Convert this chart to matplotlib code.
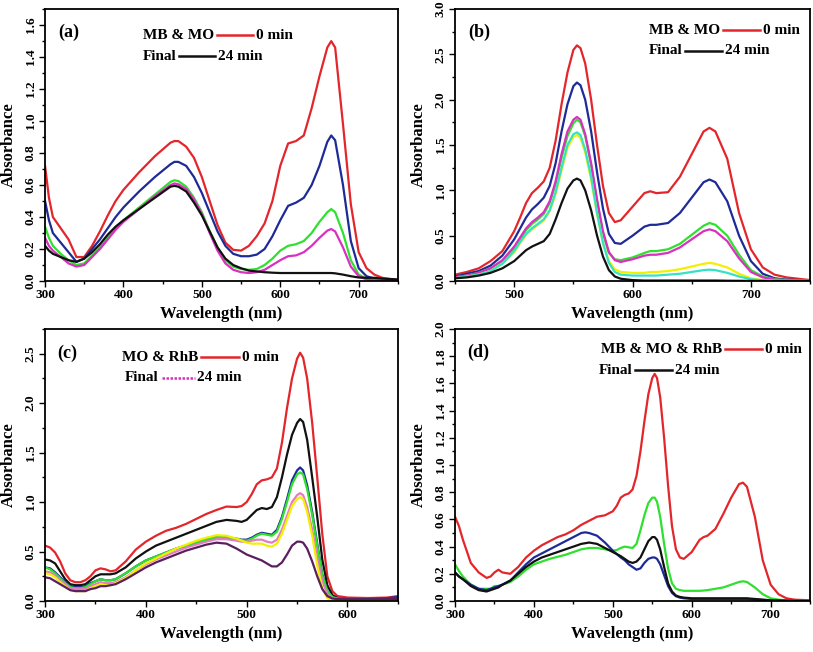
import numpy as np
import matplotlib
matplotlib.use('Agg')
import matplotlib.pyplot as plt
from matplotlib.ticker import MultipleLocator, AutoMinorLocator

plt.rcParams['font.family'] = 'serif'
plt.rcParams['font.serif'] = ['Liberation Serif', 'DejaVu Serif']
plt.rcParams['font.weight'] = 'bold'
plt.rcParams['axes.labelweight'] = 'bold'

# ---- (a) MB & MO ----
wl_a = [300, 305, 310, 320, 330, 340, 350, 360, 370, 380, 390, 400, 420, 440, 460, 465, 470, 480, 490, 500,
        510, 520, 530, 540, 550, 560, 570, 580, 590, 600, 610, 620, 630, 640, 650, 660, 665, 670, 680, 690,
        700, 710, 720, 730, 750]
a_red = [0.72, 0.52, 0.40, 0.33, 0.26, 0.15, 0.15, 0.22, 0.31, 0.41, 0.50, 0.57, 0.68, 0.78, 0.865, 0.875, 0.875,
         0.84, 0.77, 0.65, 0.50, 0.35, 0.24, 0.195, 0.19, 0.22, 0.28, 0.36, 0.50, 0.72, 0.86, 0.875, 0.91, 1.08,
         1.28, 1.46, 1.50, 1.46, 0.98, 0.48, 0.18, 0.08, 0.04, 0.02, 0.005]
a_blue = [0.50, 0.38, 0.30, 0.24, 0.18, 0.12, 0.14, 0.20, 0.26, 0.33, 0.40, 0.46, 0.56, 0.65, 0.73, 0.745, 0.745,
          0.72, 0.65, 0.55, 0.43, 0.31, 0.22, 0.17, 0.155, 0.155, 0.165, 0.20, 0.28, 0.38, 0.47, 0.49, 0.52, 0.60,
          0.72, 0.87, 0.91, 0.88, 0.60, 0.25, 0.08, 0.03, 0.015, 0.008, 0.0]
a_green = [0.34, 0.27, 0.22, 0.17, 0.13, 0.10, 0.11, 0.16, 0.21, 0.27, 0.33, 0.38, 0.46, 0.54, 0.62, 0.63, 0.625,
           0.59, 0.52, 0.43, 0.31, 0.21, 0.13, 0.09, 0.075, 0.07, 0.075, 0.10, 0.14, 0.19, 0.22, 0.23, 0.25, 0.30,
           0.37, 0.43, 0.45, 0.43, 0.30, 0.13, 0.04, 0.015, 0.008, 0.004, 0.0]
a_mag = [0.27, 0.22, 0.19, 0.15, 0.11, 0.09, 0.10, 0.15, 0.20, 0.26, 0.32, 0.37, 0.45, 0.53, 0.60, 0.61, 0.605,
         0.575, 0.51, 0.42, 0.30, 0.19, 0.11, 0.07, 0.055, 0.05, 0.055, 0.07, 0.10, 0.13, 0.155, 0.16, 0.18, 0.22,
         0.27, 0.315, 0.325, 0.31, 0.21, 0.09, 0.03, 0.01, 0.005, 0.002, 0.0]
a_black = [0.22, 0.19, 0.17, 0.15, 0.13, 0.12, 0.14, 0.18, 0.23, 0.29, 0.34, 0.38, 0.45, 0.52, 0.59, 0.595, 0.59,
           0.56, 0.49, 0.41, 0.31, 0.21, 0.14, 0.10, 0.08, 0.065, 0.06, 0.055, 0.052, 0.05, 0.05, 0.05, 0.05, 0.05,
           0.05, 0.05, 0.05, 0.048, 0.04, 0.03, 0.022, 0.02, 0.02, 0.015, 0.01]

# ---- (b) MB & MO ----
wl_b = [450, 460, 470, 480, 490, 500, 505, 510, 515, 520, 525, 530, 535, 540, 545, 550, 553, 556, 560, 565, 570,
        575, 580, 585, 590, 600, 610, 615, 620, 630, 640, 650, 660, 665, 670, 680, 690, 700, 710, 720, 730, 750]
b_red = [0.07, 0.10, 0.14, 0.22, 0.33, 0.55, 0.70, 0.86, 0.97, 1.03, 1.10, 1.25, 1.55, 1.95, 2.30, 2.55, 2.60, 2.57,
         2.40, 2.00, 1.50, 1.05, 0.75, 0.65, 0.67, 0.82, 0.97, 0.99, 0.97, 0.98, 1.15, 1.40, 1.65, 1.69, 1.65, 1.35,
         0.75, 0.35, 0.15, 0.07, 0.04, 0.01]
b_blue = [0.05, 0.08, 0.11, 0.17, 0.28, 0.46, 0.58, 0.70, 0.79, 0.85, 0.92, 1.05, 1.30, 1.65, 1.95, 2.15, 2.19, 2.16,
          2.00, 1.65, 1.20, 0.80, 0.52, 0.42, 0.41, 0.50, 0.60, 0.62, 0.62, 0.64, 0.75, 0.92, 1.09, 1.12, 1.09, 0.88,
          0.50, 0.22, 0.08, 0.03, 0.015, 0.005]
b_green = [0.04, 0.06, 0.09, 0.14, 0.22, 0.36, 0.46, 0.56, 0.63, 0.68, 0.74, 0.86, 1.07, 1.36, 1.60, 1.74, 1.78, 1.75,
           1.60, 1.28, 0.88, 0.52, 0.31, 0.24, 0.23, 0.26, 0.31, 0.33, 0.33, 0.35, 0.41, 0.51, 0.61, 0.64, 0.62, 0.50,
           0.29, 0.12, 0.05, 0.02, 0.01, 0.005]
b_mag = [0.04, 0.06, 0.09, 0.14, 0.23, 0.38, 0.48, 0.58, 0.65, 0.70, 0.76, 0.88, 1.10, 1.40, 1.65, 1.78, 1.81, 1.78,
         1.62, 1.30, 0.90, 0.55, 0.32, 0.23, 0.21, 0.24, 0.28, 0.29, 0.29, 0.31, 0.37, 0.46, 0.55, 0.57, 0.55, 0.44,
         0.25, 0.10, 0.04, 0.015, 0.008, 0.003]
b_yellow = [0.03, 0.05, 0.07, 0.11, 0.19, 0.32, 0.42, 0.51, 0.57, 0.62, 0.67, 0.77, 0.96, 1.22, 1.47, 1.59, 1.61, 1.58,
            1.42, 1.12, 0.74, 0.42, 0.22, 0.13, 0.10, 0.09, 0.09, 0.10, 0.10, 0.11, 0.13, 0.16, 0.19, 0.20, 0.19, 0.15,
            0.08, 0.03, 0.01, 0.005, 0.002, 0.0]
b_cyan = [0.03, 0.05, 0.07, 0.11, 0.19, 0.33, 0.43, 0.52, 0.58, 0.63, 0.68, 0.78, 0.98, 1.25, 1.50, 1.62, 1.64, 1.61,
          1.45, 1.15, 0.75, 0.42, 0.20, 0.10, 0.07, 0.06, 0.06, 0.06, 0.06, 0.07, 0.08, 0.10, 0.12, 0.125, 0.12, 0.09,
          0.05, 0.02, 0.008, 0.003, 0.001, 0.0]
b_black = [0.03, 0.04, 0.06, 0.09, 0.14, 0.22, 0.28, 0.34, 0.38, 0.41, 0.44, 0.52, 0.68, 0.86, 1.02, 1.11, 1.13, 1.11,
           1.00, 0.78, 0.50, 0.27, 0.12, 0.05, 0.025, 0.01, 0.005, 0.005, 0.005, 0.005, 0.005, 0.005, 0.005, 0.005,
           0.005, 0.003, 0.002, 0.001, 0.0, 0.0, 0.0, 0.0]

# ---- (c) MO & RhB ----
wl_c = [300, 305, 310, 315, 320, 325, 330, 335, 340, 345, 350, 355, 360, 365, 370, 380, 390, 400, 410, 420, 430, 440,
        450, 460, 470, 480, 490, 495, 500, 505, 510, 515, 520, 525, 530, 535, 540, 545, 550, 553, 556, 560, 565, 570,
        575, 580, 585, 590, 600, 620, 640, 650]
c_red = [0.56, 0.54, 0.49, 0.40, 0.28, 0.21, 0.19, 0.19, 0.21, 0.25, 0.31, 0.33, 0.32, 0.30, 0.31, 0.40, 0.52, 0.60,
         0.66, 0.71, 0.74, 0.78, 0.83, 0.88, 0.92, 0.955, 0.95, 0.96, 1.00, 1.08, 1.18, 1.22, 1.23, 1.25, 1.34, 1.60,
         1.95, 2.25, 2.45, 2.51, 2.46, 2.25, 1.80, 1.25, 0.68, 0.25, 0.10, 0.05, 0.035, 0.03, 0.035, 0.05]
c_black = [0.42, 0.41, 0.38, 0.30, 0.22, 0.17, 0.16, 0.16, 0.17, 0.21, 0.25, 0.27, 0.27, 0.27, 0.28, 0.34, 0.43, 0.50,
           0.56, 0.60, 0.64, 0.68, 0.72, 0.76, 0.80, 0.82, 0.81, 0.80, 0.82, 0.87, 0.92, 0.94, 0.93, 0.95, 1.05, 1.25,
           1.48, 1.68, 1.80, 1.84, 1.81, 1.63, 1.25, 0.85, 0.42, 0.16, 0.06, 0.03, 0.02, 0.02, 0.02, 0.02]
c_blue = [0.34, 0.33, 0.29, 0.24, 0.19, 0.15, 0.14, 0.14, 0.15, 0.18, 0.20, 0.22, 0.21, 0.21, 0.22, 0.28, 0.35, 0.41,
          0.45, 0.49, 0.53, 0.56, 0.59, 0.62, 0.645, 0.645, 0.63, 0.62, 0.62, 0.64, 0.67, 0.69, 0.68, 0.67, 0.72, 0.85,
          1.03, 1.22, 1.32, 1.35, 1.32, 1.17, 0.90, 0.58, 0.27, 0.10, 0.04, 0.025, 0.02, 0.02, 0.03, 0.04]
c_green = [0.34, 0.32, 0.28, 0.23, 0.18, 0.14, 0.13, 0.13, 0.14, 0.17, 0.20, 0.22, 0.21, 0.21, 0.22, 0.28, 0.35, 0.41,
           0.45, 0.49, 0.53, 0.56, 0.59, 0.62, 0.645, 0.645, 0.63, 0.615, 0.61, 0.63, 0.66, 0.68, 0.67, 0.66, 0.70, 0.83,
           1.00, 1.18, 1.28, 1.30, 1.28, 1.13, 0.87, 0.56, 0.26, 0.10, 0.04, 0.025, 0.02, 0.02, 0.02, 0.02]
c_pink = [0.30, 0.29, 0.26, 0.21, 0.17, 0.13, 0.12, 0.12, 0.12, 0.15, 0.17, 0.19, 0.18, 0.18, 0.19, 0.24, 0.31, 0.37,
          0.42, 0.46, 0.50, 0.54, 0.57, 0.60, 0.625, 0.625, 0.61, 0.60, 0.60, 0.61, 0.62, 0.62, 0.60, 0.59, 0.62, 0.72,
          0.86, 1.00, 1.07, 1.09, 1.07, 0.95, 0.72, 0.44, 0.20, 0.07, 0.03, 0.02, 0.02, 0.02, 0.02, 0.02]
c_yellow = [0.28, 0.27, 0.24, 0.19, 0.15, 0.11, 0.10, 0.10, 0.10, 0.13, 0.15, 0.17, 0.16, 0.16, 0.18, 0.23, 0.31, 0.38,
            0.43, 0.48, 0.53, 0.57, 0.61, 0.64, 0.665, 0.66, 0.63, 0.61, 0.59, 0.58, 0.58, 0.58, 0.56, 0.55, 0.58, 0.68,
            0.82, 0.96, 1.03, 1.05, 1.03, 0.90, 0.66, 0.36, 0.13, 0.03, 0.005, 0.0, 0.0, 0.005, 0.01, 0.01]
c_purple = [0.24, 0.23, 0.20, 0.17, 0.14, 0.11, 0.10, 0.10, 0.10, 0.12, 0.13, 0.15, 0.15, 0.16, 0.17, 0.22, 0.28, 0.34,
            0.39, 0.43, 0.47, 0.51, 0.54, 0.57, 0.59, 0.58, 0.53, 0.50, 0.47, 0.45, 0.43, 0.41, 0.38, 0.35, 0.35, 0.39,
            0.47, 0.56, 0.60, 0.60, 0.59, 0.53, 0.40, 0.25, 0.12, 0.05, 0.025, 0.02, 0.02, 0.02, 0.02, 0.02]

# ---- (d) MB & MO & RhB ----
wl_d = [300, 305, 310, 320, 330, 340, 345, 350, 355, 360, 370, 380, 390, 400, 410, 420, 430, 440, 450, 460, 465, 470,
        480, 490, 500, 505, 510, 515, 520, 525, 530, 535, 540, 545, 550, 553, 556, 560, 565, 570, 575, 580, 585, 590,
        600, 610, 615, 620, 630, 640, 650, 660, 665, 670, 680, 690, 700, 710, 720, 730, 750]
d_red = [0.62, 0.55, 0.45, 0.28, 0.21, 0.17, 0.18, 0.21, 0.23, 0.21, 0.20, 0.25, 0.32, 0.37, 0.41, 0.44, 0.47, 0.49,
         0.52, 0.56, 0.575, 0.59, 0.62, 0.63, 0.66, 0.70, 0.76, 0.78, 0.79, 0.82, 0.92, 1.10, 1.32, 1.52, 1.64, 1.67,
         1.64, 1.50, 1.20, 0.85, 0.55, 0.38, 0.32, 0.31, 0.36, 0.45, 0.47, 0.48, 0.53, 0.64, 0.76, 0.86, 0.87, 0.84,
         0.62, 0.30, 0.12, 0.05, 0.02, 0.01, 0.005]
d_green = [0.27, 0.22, 0.18, 0.12, 0.09, 0.09, 0.09, 0.11, 0.11, 0.12, 0.14, 0.18, 0.23, 0.27, 0.29, 0.31, 0.325, 0.34,
           0.36, 0.38, 0.385, 0.39, 0.39, 0.38, 0.37, 0.375, 0.39, 0.40, 0.395, 0.39, 0.42, 0.52, 0.63, 0.72, 0.76, 0.76,
           0.73, 0.62, 0.42, 0.24, 0.13, 0.09, 0.08, 0.075, 0.075, 0.075, 0.077, 0.08, 0.09, 0.10, 0.12, 0.14, 0.145,
           0.14, 0.10, 0.05, 0.02, 0.01, 0.005, 0.002, 0.0]
d_blue = [0.21, 0.18, 0.16, 0.12, 0.09, 0.08, 0.09, 0.10, 0.11, 0.12, 0.15, 0.21, 0.27, 0.32, 0.35, 0.38, 0.41, 0.44,
          0.47, 0.50, 0.505, 0.50, 0.48, 0.43, 0.37, 0.345, 0.32, 0.30, 0.27, 0.25, 0.23, 0.24, 0.28, 0.31, 0.32, 0.32,
          0.31, 0.27, 0.19, 0.11, 0.06, 0.035, 0.025, 0.02, 0.015, 0.015, 0.015, 0.015, 0.015, 0.015, 0.015, 0.015,
          0.015, 0.015, 0.01, 0.008, 0.005, 0.003, 0.002, 0.001, 0.0]
d_black = [0.21, 0.18, 0.16, 0.11, 0.08, 0.07, 0.08, 0.09, 0.10, 0.12, 0.15, 0.20, 0.25, 0.29, 0.32, 0.34, 0.36, 0.38,
           0.40, 0.42, 0.425, 0.43, 0.42, 0.39, 0.36, 0.345, 0.33, 0.31, 0.29, 0.28, 0.29, 0.32, 0.38, 0.44, 0.47, 0.47,
           0.45, 0.38, 0.25, 0.13, 0.07, 0.04, 0.03, 0.025, 0.02, 0.02, 0.02, 0.02, 0.02, 0.02, 0.02, 0.02, 0.02, 0.02,
           0.015, 0.01, 0.005, 0.003, 0.002, 0.001, 0.0]

RED = '#e3262b'
BLUE = '#1e2a96'
GREEN = '#2fe02f'
MAG = '#d930c0'
BLACK = '#111111'
YELLOW = '#f2f000'
CYAN = '#35e3c4'
PINK = '#e47cc0'
PURPLE = '#5a1f5e'
LW = 1.6


def style_axes(ax, xlim, ylim, ystep, xmajor=100):
    ax.set_xlim(*xlim)
    ax.set_ylim(*ylim)
    ax.xaxis.set_major_locator(MultipleLocator(xmajor))
    ax.xaxis.set_minor_locator(AutoMinorLocator(2))
    yt = np.arange(0, ylim[1] + 1e-6, ystep)
    ax.set_yticks(yt)
    ax.set_yticklabels(['%.1f' % v for v in yt], rotation=90, va='center')
    ax.set_ylim(*ylim)
    ax.yaxis.set_minor_locator(AutoMinorLocator(2))
    ax.tick_params(which='both', direction='out', top=False, right=False, width=1.0)
    ax.tick_params(which='major', length=4, labelsize=9.5, pad=2)
    ax.tick_params(which='minor', length=2.5)
    for s in ax.spines.values():
        s.set_linewidth(1.3)
    ax.set_xlabel('Wavelength (nm)', fontsize=12, labelpad=3)
    ax.set_ylabel('Absorbance', fontsize=12, labelpad=6)


def legend(ax, y1, y2, name, l1, l2, c2, ls2='-'):
    # row 1: dye name --- 0 min ; row 2: Final --- 24 min
    ax.plot(l1, [y1, y1], color=RED, lw=1.8, transform=ax.transAxes, clip_on=False)
    ax.text(l1[0] - 0.008, y1, name, transform=ax.transAxes, ha='right', va='center', fontsize=11)
    ax.text(l1[1] + 0.008, y1, '0 min', transform=ax.transAxes, ha='left', va='center', fontsize=11)
    ax.plot(l2, [y2, y2], color=c2, lw=1.8, ls=ls2, transform=ax.transAxes, clip_on=False)
    ax.text(l2[0] - 0.008, y2, 'Final', transform=ax.transAxes, ha='right', va='center', fontsize=11)
    ax.text(l2[1] + 0.008, y2, '24 min', transform=ax.transAxes, ha='left', va='center', fontsize=11)


fig = plt.figure(figsize=(8.13, 6.52), dpi=100)
ax_a = fig.add_axes([0.0554, 0.569, 0.434, 0.417])
ax_b = fig.add_axes([0.5597, 0.569, 0.4367, 0.417])
ax_c = fig.add_axes([0.0554, 0.0782, 0.434, 0.4172])
ax_d = fig.add_axes([0.5597, 0.0782, 0.4367, 0.4172])

# (a)
ax_a.plot(wl_a, a_red, color=RED, lw=LW)
ax_a.plot(wl_a, a_blue, color=BLUE, lw=LW)
ax_a.plot(wl_a, a_green, color=GREEN, lw=LW)
ax_a.plot(wl_a, a_mag, color=MAG, lw=LW)
ax_a.plot(wl_a, a_black, color=BLACK, lw=LW)
style_axes(ax_a, (300, 750), (0, 1.7), 0.2)
ax_a.text(0.037, 0.915, '(a)', transform=ax_a.transAxes, fontsize=13, va='center')
legend(ax_a, 0.904, 0.827, 'MB & MO', (0.487, 0.589), (0.38, 0.482), BLACK)

# (b)
ax_b.plot(wl_b, b_red, color=RED, lw=LW)
ax_b.plot(wl_b, b_blue, color=BLUE, lw=LW)
ax_b.plot(wl_b, b_green, color=GREEN, lw=LW)
ax_b.plot(wl_b, b_mag, color=MAG, lw=LW)
ax_b.plot(wl_b, b_yellow, color=YELLOW, lw=LW)
ax_b.plot(wl_b, b_cyan, color=CYAN, lw=LW)
ax_b.plot(wl_b, b_black, color=BLACK, lw=LW)
style_axes(ax_b, (450, 750), (0, 3.0), 0.5)
ax_b.text(0.037, 0.915, '(b)', transform=ax_b.transAxes, fontsize=13, va='center')
legend(ax_b, 0.923, 0.846, 'MB & MO', (0.755, 0.859), (0.648, 0.752), BLACK)

# (c)
ax_c.plot(wl_c, c_red, color=RED, lw=LW)
ax_c.plot(wl_c, c_black, color=BLACK, lw=LW)
ax_c.plot(wl_c, c_blue, color=BLUE, lw=LW)
ax_c.plot(wl_c, c_green, color=GREEN, lw=LW)
ax_c.plot(wl_c, c_pink, color=PINK, lw=LW)
ax_c.plot(wl_c, c_yellow, color=YELLOW, lw=LW)
ax_c.plot(wl_c, c_purple, color=PURPLE, lw=LW)
style_axes(ax_c, (300, 650), (0, 2.75), 0.5)
ax_c.text(0.034, 0.91, '(c)', transform=ax_c.transAxes, fontsize=13, va='center')
legend(ax_c, 0.897, 0.82, 'MO & RhB', (0.443, 0.551), (0.331, 0.424), MAG, ls2=(0, (1, 0.6)))

# (d)
ax_d.plot(wl_d, d_red, color=RED, lw=LW)
ax_d.plot(wl_d, d_green, color=GREEN, lw=LW)
ax_d.plot(wl_d, d_blue, color=BLUE, lw=LW)
ax_d.plot(wl_d, d_black, color=BLACK, lw=LW)
style_axes(ax_d, (300, 750), (0, 2.0), 0.2)
ax_d.text(0.034, 0.915, '(d)', transform=ax_d.transAxes, fontsize=13, va='center')
legend(ax_d, 0.926, 0.849, 'MB & MO & RhB', (0.76, 0.865), (0.507, 0.611), BLACK)

fig.savefig('out.png', dpi=100)
